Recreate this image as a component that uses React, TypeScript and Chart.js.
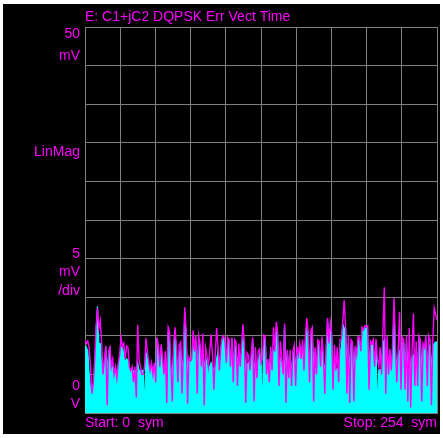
import React, { useEffect, useRef } from "react";
import { Chart, registerables } from "chart.js";

Chart.register(...registerables);

const titleText = "E: C1+jC2 DQPSK Err Vect Time";
const yLabelValues = [47.6, 33.8, 18.2, 2.3];
const yLabelTexts = [["50", "mV"], ["LinMag"], ["5", "mV", "/div"], ["0", "V"]];
const xStartLabel = "Start: 0  sym";
const xStopLabel = "Stop: 254  sym";
const xMin = 0;
const xMax = 254;
const yMin = 0;
const yMax = 50;
const yStep = 5;
const xDivisions = 10;

// Magenta trace (mV), symbols 0..254
const magenta = [
  9.5, 9, 9.3, 8.5, 6, 2.5, 4, 7, 11, 13.6, 11, 12, 9, 5, 7, 8.7, 1, 8, 8.5, 6, 7, 5, 6, 4.5, 6.5, 7.5, 9.8, 8.6, 9, 7, 8.7, 8.5, 6, 5.5, 6, 4, 6, 2, 11.4, 7, 6, 5, 5,
  6, 9.7, 8, 6.5, 5.5, 6.5, 5, 6.5, 4, 9.8, 8.7, 6, 8.9, 7, 5, 8, 1.3, 11.1, 10.5, 6, 1.5, 9, 11.1, 8.5, 4, 8.8, 9.2, 2.5, 8, 13.7, 10.5, 1.2, 7.2, 6.8, 7, 10.7, 8, 10, 2.5, 10, 9, 6,
  10.3, 1, 8.5, 7.5, 6, 8, 10.2, 7.5, 3, 7.5, 11, 8.5, 5.5, 8.5, 9.8, 10, 9.3, 6.5, 9.8, 9.5, 6, 9.8, 4, 9.5, 9.2, 3.5, 9, 6, 8.8, 11.5, 9, 1.3, 7.8, 7.5, 5.5, 7.8, 9.8, 1.5, 8.5, 4.5, 8, 8.3, 6.5, 7,
  10.1, 10, 5, 7, 4, 8.6, 5.5, 11.1, 8, 11.8, 10.5, 3.5, 9.3, 7, 5, 11.6, 1.3, 8.2, 4.5, 8.2, 3.5, 8, 8.8, 3.5, 8.6, 7.5, 9, 7, 9.5, 5.5, 9.7, 12.3, 10.6, 4, 10.7, 11.1, 1.5, 8.5, 5, 9.5, 9.3, 6,
  9.9, 7.5, 2.5, 8.5, 12.3, 9, 11.8, 10.5, 3, 8.8, 5.5, 8.5, 4, 9.5, 9.5, 11.8, 14.6, 11.4, 2.5, 10, 1.3, 9.5, 9.2, 1.5, 8.6, 7.5, 9.9, 9.8, 8, 11.1, 10.8, 11.3, 11.2, 11.3, 3, 9.3, 9, 9.5, 6, 9.6, 7,
  6, 8.5, 5, 10.7, 16.3, 2.5, 10, 5, 8.3, 5.5, 9, 14.9, 8.5, 4, 8, 13.1, 3, 9.8, 9.5, 3, 10, 1.5, 11, 0.7, 8, 12.9, 3.5, 9.3, 3.5, 10, 9.5, 1.5, 9, 8.5, 10, 3.5, 10, 9.5, 1, 9.5, 13.6, 12.8, 12,
];

// Cyan filled trace (mV), symbols 0..254
const cyan = [
  8.8, 8.5, 8, 5, 3, 3, 3, 5, 10.8, 13.8, 9, 9, 6, 5.5, 5.5, 8.5, 5.5, 7.5, 8.3, 5.5, 6, 5.5, 5.5, 5.5, 6, 7, 8.5, 8.6, 7.5, 6.5, 7, 6.8, 5.5, 5.5, 5.5, 5.5, 5.5, 5.5, 6.5, 5.5, 5.5, 5.5, 5.5,
  0.2, 7.8, 7, 6, 5.5, 6.2, 5.5, 5.5, 5.5, 9.7, 8, 5.5, 8.5, 6, 5.5, 5.5, 5.5, 10.5, 9, 5.5, 5.5, 8, 10.3, 7.5, 5.5, 7.5, 8.6, 5.5, 7, 13, 9.5, 5.5, 6.8, 6.5, 6.6, 8.5, 7, 9.5, 5.5, 9.6, 8, 5.5,
  8.3, 5.5, 7.2, 6.5, 5.5, 6, 6.5, 6, 5.5, 5.5, 7, 8, 5.5, 8, 9.3, 9.7, 9, 6, 9.5, 9.2, 5.5, 9.5, 5.5, 8.8, 8.5, 5.5, 8.2, 5.5, 7.5, 9.8, 8, 5.5, 6.3, 6.5, 5.5, 6.3, 9.5, 5.5, 6.5, 5.5, 6.5, 7.5, 6, 0.2,
  9.8, 9.6, 5.5, 6, 5.5, 8.1, 5.5, 8, 7.5, 10.5, 10, 5.5, 7, 6.3, 5.5, 11.3, 5.5, 8, 5.5, 7.3, 5.5, 7, 8.2, 5.5, 8.1, 7, 8.3, 6.5, 9, 5.5, 9.3, 11, 9.6, 5.5, 9.5, 10.9, 5.5, 7.9, 5.5, 9, 8.8, 5.5,
  8.5, 6.5, 5.5, 7.5, 12, 8, 11, 9.8, 5.5, 6.3, 5.5, 5.8, 5.5, 8, 8.5, 11.5, 11, 11, 5.5, 9, 5.5, 9, 8.8, 5.5, 8.2, 7, 9.5, 9.4, 7.5, 10.7, 10.4, 11, 11, 10, 5.5, 8.9, 8.6, 9, 5.5, 9.2, 0.2,
  5.6, 5.6, 5.5, 9, 9.5, 5.5, 8.5, 5.5, 7.5, 5.5, 8, 13.6, 8, 5.5, 7.5, 8, 5.5, 9.3, 9, 5.5, 9.4, 5.5, 8, 5.5, 7.2, 7.5, 5.5, 6.5, 5.5, 9.8, 9.5, 5.5, 8.5, 8, 8.8, 5.5, 8.8, 8.8, 5.5, 8.5, 9, 9.2, 9.2,
];

const symbols = magenta.map((_, i) => i);

const FONT = "'Liberation Sans', Arial, sans-serif";
const TEXT_COLOR = "#ff00ff";
const GRID_COLOR = "#808080";

const zeroPadding = (s: any) => {
  s.paddingTop = 0;
  s.paddingBottom = 0;
  s.paddingLeft = 0;
  s.paddingRight = 0;
};

export default function App() {
  const ref = useRef<HTMLCanvasElement>(null);

  useEffect(() => {
    document.body.style.margin = "0";
    const canvas = ref.current;
    if (!canvas) return;
    const chart = new Chart(canvas, {
      type: "line",
      data: {
        datasets: [
          {
            data: symbols.map((x, i) => ({ x, y: magenta[i] })),
            borderColor: "#ff00ff",
            backgroundColor: "#ff00ff",
            fill: false,
            borderWidth: 1.4,
            pointRadius: 0,
            tension: 0,
          },
          {
            data: symbols.map((x, i) => ({ x, y: cyan[i] })),
            borderColor: "#00ffff",
            backgroundColor: "#00ffff",
            fill: "origin",
            borderWidth: 1.2,
            pointRadius: 0,
            tension: 0,
          },
        ],
      },
      options: {
        responsive: false,
        animation: false,
        events: [],
        layout: { padding: { left: 0, right: 3, top: 0, bottom: 0 } },
        plugins: {
          legend: { display: false },
          tooltip: { enabled: false },
          title: {
            display: true,
            text: titleText,
            align: "start",
            fullSize: false,
            color: TEXT_COLOR,
            font: { family: FONT, size: 14, weight: "normal", lineHeight: 1.2 },
            padding: { top: 4.4, bottom: 1.8 },
          },
        },
        scales: {
          x: {
            type: "linear",
            min: xMin,
            max: xMax,
            afterBuildTicks: (s: any) => {
              s.ticks = Array.from({ length: xDivisions + 1 }, (_, k) => ({
                value: xMin + ((xMax - xMin) * k) / xDivisions,
              }));
            },
            afterFit: (s: any) => {
              s.height = 21;
              zeroPadding(s);
            },
            grid: { color: GRID_COLOR, drawTicks: false, lineWidth: 1 },
            border: { color: GRID_COLOR },
            ticks: {
              autoSkip: false,
              maxRotation: 0,
              align: "inner",
              padding: 2,
              color: TEXT_COLOR,
              font: { family: FONT, size: 14 },
              callback: (_v: any, i: number) =>
                i === 0 ? xStartLabel : i === xDivisions ? xStopLabel : "",
            },
          },
          y: {
            min: yMin,
            max: yMax,
            position: "left",
            ticks: { display: false, stepSize: yStep },
            grid: { color: GRID_COLOR, drawTicks: false },
            border: { color: GRID_COLOR },
            afterFit: (s: any) => {
              s.width = 0;
              zeroPadding(s);
            },
          },
          yl: {
            min: yMin,
            max: yMax,
            position: "left",
            grid: { display: false, drawTicks: false },
            border: { display: false },
            afterBuildTicks: (s: any) => {
              s.ticks = yLabelValues.map((value) => ({ value }));
            },
            afterFit: (s: any) => {
              s.width = 82;
              zeroPadding(s);
            },
            ticks: {
              autoSkip: false,
              padding: 5,
              color: TEXT_COLOR,
              font: (ctx: any) => ({
                family: FONT,
                size: 14,
                lineHeight: ctx.index === 0 ? "22px" : "18.5px",
              }),
              callback: (_v: any, i: number) => yLabelTexts[i],
            },
          },
        },
      },
    } as any);
    return () => chart.destroy();
  }, []);

  return (
    <div
      style={{
        position: "absolute",
        left: 0,
        top: 0,
        width: 443,
        height: 438,
        background: "#ffffff",
      }}
    >
      <canvas
        ref={ref}
        width={437}
        height={430}
        style={{ position: "absolute", left: 3, top: 4, width: 437, height: 430, background: "#000000" }}
      />
    </div>
  );
}
